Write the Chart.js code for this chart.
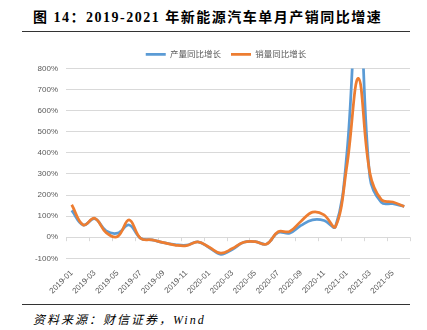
<!DOCTYPE html>
<html><head><meta charset="utf-8">
<script src="https://cdn.jsdelivr.net/npm/chart.js@4"></script>
<style>
html,body{margin:0;padding:0;background:#fff;width:427px;height:330px;overflow:hidden;}
#title{position:absolute;left:33px;top:6px;font:bold 14px "Liberation Serif","Noto Sans CJK SC";letter-spacing:1.5px;color:#000;white-space:nowrap;}
.rule{position:absolute;left:22px;width:388px;border-top:1.5px solid #333;}
#src{position:absolute;left:33px;top:310px;font:italic 12px "Liberation Serif","Noto Sans CJK SC";letter-spacing:2px;color:#000;white-space:nowrap;}
#wrap{position:absolute;left:0;top:36px;width:427px;height:266px;}
</style></head><body>
<div id="title">图 14：2019-2021 年新能源汽车单月产销同比增速</div>
<div class="rule" style="top:31px"></div>
<div id="wrap"><canvas id="c" width="427" height="266"></canvas></div>
<div class="rule" style="top:304px"></div>
<div id="src">资料来源：财信证券，Wind</div>
<script>
const months = ["2019-01","2019-02","2019-03","2019-04","2019-05","2019-06","2019-07","2019-08","2019-09","2019-10","2019-11","2019-12",
"2020-01","2020-02","2020-03","2020-04","2020-05","2020-06","2020-07","2020-08","2020-09","2020-10","2020-11","2020-12",
"2021-01","2021-02","2021-03","2021-04","2021-05","2021-06"];
const productionYoY = [127,58,88,30,19,58,-5,-13,-26,-35,-38,-22,-50,-81,-58,-24,-21,-32,22,19,56,82,79,50,400,1200,285,165,159,146];
const salesYoY = [154,58,90,22,3,82,-5,-13,-26,-37,-40,-22,-48,-76,-54,-24,-21,-32,26,27,76,119,106,50,340,753,305,178,167,146];
const seriesNames = ["产量同比增长","销量同比增长"];
const yTicks = [-100,0,100,200,300,400,500,600,700,800];

const zeroTicks = {
  id:'zeroTicks',
  beforeDatasetsDraw(chart){
    const xs = chart.scales.x, ys = chart.scales.y, ctx = chart.ctx;
    const n = months.length, step = xs.width / n;
    const y0 = ys.getPixelForValue(0);
    ctx.save();
    ctx.strokeStyle = '#D9D9D9'; ctx.lineWidth = 1;
    ctx.beginPath();
    for (let k = 0; k <= n; k += 2) {
      const x = Math.round(xs.getPixelForValue(Math.min(k, n-1)) + (k >= n ? step/2 : -step/2)) + 0.5;
      ctx.moveTo(x, y0); ctx.lineTo(x, y0 + 4);
    }
    ctx.stroke();
    ctx.restore();
  }
};

const legendShift = {
  id:'legendShift',
  afterLayout(chart){
    const l = chart.legend;
    if (l) { l.left += 21; l.right += 21; }
  }
};

new Chart(document.getElementById('c'), {
  type:'line',
  data:{
    labels: months,
    datasets:[
      {label:seriesNames[0], data:productionYoY, borderColor:'#5B9BD5', backgroundColor:'#5B9BD5', borderWidth:2.75, pointRadius:0, tension:0.4, order:1},
      {label:seriesNames[1], data:salesYoY, borderColor:'#ED7D31', backgroundColor:'#ED7D31', borderWidth:2.75, pointRadius:0, tension:0.4, order:0}
    ]
  },
  options:{
    responsive:false, animation:false,
    layout:{padding:{left:0,right:17,top:4,bottom:0}},
    plugins:{
      tooltip:{enabled:false},
      legend:{
        position:'top', align:'center',
        labels:{usePointStyle:true, pointStyle:'line', pointStyleWidth:20, boxHeight:9, padding:10,
          color:'#595959', font:{size:8.5, family:'"Noto Sans CJK SC"'},
          sort:(a,b)=>a.datasetIndex-b.datasetIndex}
      }
    },
    scales:{
      x:{
        offset:true,
        grid:{display:false}, border:{display:false},
        ticks:{autoSkip:false, maxRotation:45, minRotation:45, padding:2, color:'#595959',
          font:{size:8, family:'"Liberation Sans"'},
          callback:(v,i)=> i%2===0 ? months[i] : ''},
        afterFit:s=>{ s.height = 43.7; }
      },
      y:{
        min:-100, max:800,
        afterBuildTicks:s=>{ s.ticks = yTicks.map(v=>({value:v})); },
        ticks:{color:'#595959', padding:8, font:{size:8, family:'"Liberation Sans"'}, callback:v=>v+'%'},
        grid:{color:'#D9D9D9', lineWidth:1, drawTicks:false},
        border:{display:false},
        afterFit:s=>{ s.width = 66; }
      }
    }
  },
  plugins:[zeroTicks, legendShift]
});
</script>
</body></html>
